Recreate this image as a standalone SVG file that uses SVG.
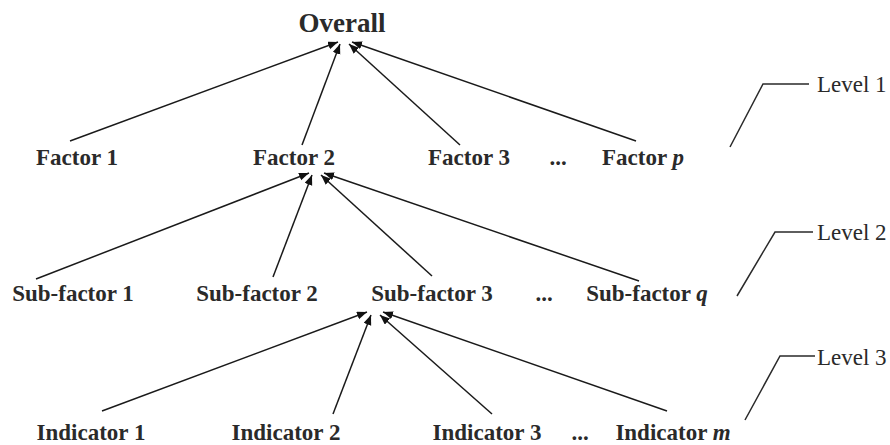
<svg xmlns="http://www.w3.org/2000/svg" width="890" height="445" viewBox="0 0 890 445">
  <style>
    .lbl { font-family: "Liberation Serif", "Times New Roman", serif; font-weight: bold; font-size: 23px; fill: #2a2a2a; text-anchor: middle; }
    .top { font-size: 27px; }
    .lvl { font-family: "Liberation Serif", "Times New Roman", serif; font-size: 23px; fill: #2a2a2a; }
    .edge { stroke: #1a1a1a; stroke-width: 1.5; fill: none; marker-end: url(#arrow); }
    .lead { stroke: #2a2a2a; stroke-width: 1.5; fill: none; }
  </style>
  <defs>
    <marker id="arrow" markerUnits="userSpaceOnUse" markerWidth="11" markerHeight="9" refX="10" refY="4" orient="auto">
      <path d="M0,0 L10,4 L0,8 z" fill="#111"/>
    </marker>
  </defs>
  <rect width="890" height="445" fill="#fff"/>

  <!-- connectors -->
  <g id="connectors">
    <!-- factors to overall -->
    <line class="edge" x1="70" y1="141" x2="338" y2="42"/>
    <line class="edge" x1="302" y1="145" x2="340" y2="44"/>
    <line class="edge" x1="460" y1="145" x2="349" y2="44"/>
    <line class="edge" x1="636" y1="141" x2="352" y2="42"/>
    <!-- sub-factors to factor 2 -->
    <line class="edge" x1="36" y1="279" x2="309" y2="173"/>
    <line class="edge" x1="273" y1="277" x2="312" y2="175"/>
    <line class="edge" x1="432" y1="276" x2="321" y2="175"/>
    <line class="edge" x1="639" y1="281" x2="324" y2="173"/>
    <!-- indicators to sub-factor 3 -->
    <line class="edge" x1="102" y1="411" x2="367" y2="312"/>
    <line class="edge" x1="333" y1="414" x2="371" y2="315"/>
    <line class="edge" x1="492" y1="414" x2="380" y2="315"/>
    <line class="edge" x1="667" y1="411" x2="383" y2="312"/>
  </g>

  <!-- level markers -->
  <g id="level1">
    <polyline class="lead" points="730,147 763,84 809,84"/>
    <text class="lvl" x="817" y="92">Level 1</text>
  </g>
  <g id="level2">
    <polyline class="lead" points="737,296 775,232 813,232"/>
    <text class="lvl" x="817" y="240">Level 2</text>
  </g>
  <g id="level3">
    <polyline class="lead" points="745,420 780,356 815,356"/>
    <text class="lvl" x="817" y="365">Level 3</text>
  </g>

  <!-- nodes -->
  <g id="overall"><text class="lbl top" x="342" y="32">Overall</text></g>

  <g id="factor1"><text class="lbl" x="77" y="165">Factor 1</text></g>
  <g id="factor2"><text class="lbl" x="294" y="165">Factor 2</text></g>
  <g id="factor3"><text class="lbl" x="469" y="165">Factor 3</text></g>
  <g id="factor-dots"><text class="lbl" x="558" y="165">...</text></g>
  <g id="factorp"><text class="lbl" x="643" y="165">Factor <tspan font-style="italic">p</tspan></text></g>

  <g id="subfactor1"><text class="lbl" x="73" y="301">Sub-factor 1</text></g>
  <g id="subfactor2"><text class="lbl" x="257" y="301">Sub-factor 2</text></g>
  <g id="subfactor3"><text class="lbl" x="432" y="301">Sub-factor 3</text></g>
  <g id="subfactor-dots"><text class="lbl" x="544" y="301">...</text></g>
  <g id="subfactorq"><text class="lbl" x="647" y="301">Sub-factor <tspan font-style="italic">q</tspan></text></g>

  <g id="indicator1"><text class="lbl" x="91" y="440">Indicator 1</text></g>
  <g id="indicator2"><text class="lbl" x="286" y="440">Indicator 2</text></g>
  <g id="indicator3"><text class="lbl" x="487" y="440">Indicator 3</text></g>
  <g id="indicator-dots"><text class="lbl" x="580" y="440">...</text></g>
  <g id="indicatorm"><text class="lbl" x="673" y="440">Indicator <tspan font-style="italic">m</tspan></text></g>
</svg>
